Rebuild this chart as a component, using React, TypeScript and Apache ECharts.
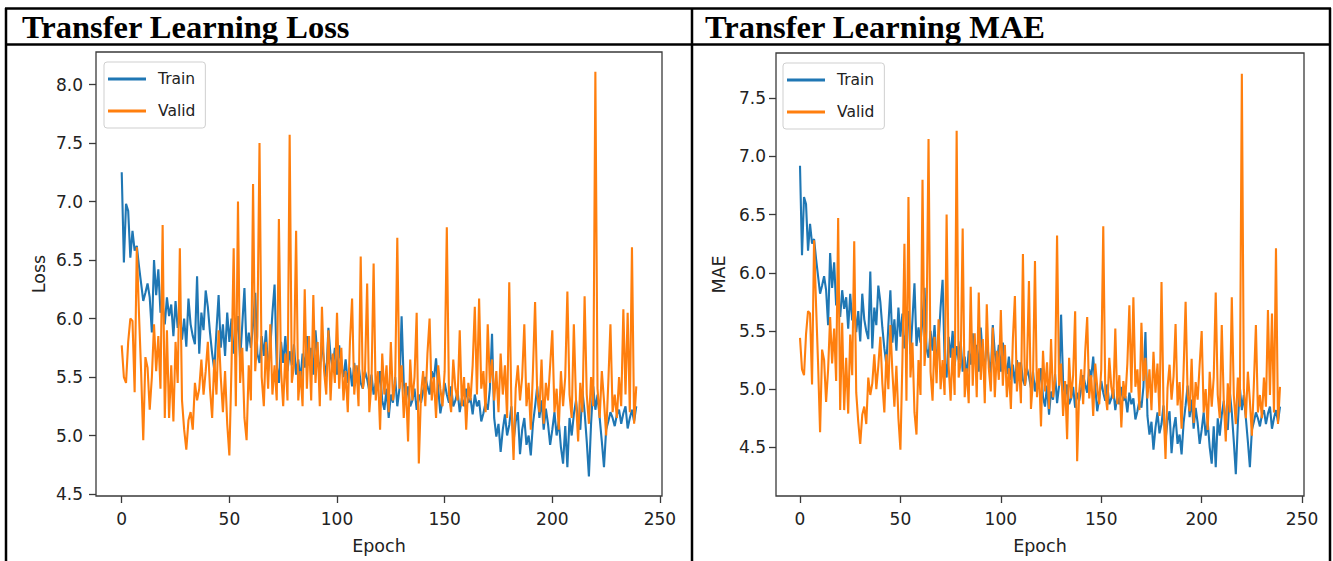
import React, { useEffect, useRef } from "react";
import * as echarts from "echarts";

// ---------- data ----------
const epochs: number[] = Array.from({ length: 240 }, (_, i) => i);

const lossTrain = [
  7.25, 6.48, 6.98, 6.92, 6.52, 6.75, 6.58, 6.62, 6.45, 6.30,
  6.15, 6.22, 6.30, 6.18, 5.88, 6.50, 6.20, 6.42, 6.05, 6.12,
  5.95, 6.18, 6.02, 6.12, 5.85, 6.15, 5.92, 6.05, 5.82, 6.00,
  5.76, 6.17, 5.95, 5.85, 5.78, 6.36, 5.70, 6.05, 5.90, 6.24,
  6.10, 5.88, 5.70, 5.56, 5.90, 6.20, 5.75, 5.95, 5.68, 6.05,
  5.80, 6.00, 5.70, 5.85, 6.02, 5.65, 5.95, 6.26, 5.72, 5.88,
  5.75, 5.95, 6.22, 5.70, 5.62, 5.85, 5.68, 5.90, 5.55, 5.75,
  6.05, 6.29, 5.60, 5.45, 5.80, 5.62, 5.85, 5.55, 5.72, 5.60,
  5.78, 5.52, 5.65, 5.47, 5.70, 5.58, 5.85, 5.60, 5.75, 5.52,
  5.90, 5.65, 5.55, 5.80, 5.62, 5.50, 5.92, 5.68, 5.58, 5.75,
  5.52, 5.77, 5.60, 5.50, 5.65, 5.45, 5.58, 5.42, 5.62, 5.48,
  5.60, 5.45, 5.40, 5.55, 5.48, 5.38, 5.52, 5.35, 5.45, 5.40,
  5.55, 5.30, 5.22, 5.40, 5.15, 5.35, 5.28, 5.50, 5.25, 5.40,
  6.02, 5.45, 5.30, 5.42, 5.25, 5.30, 5.40, 5.22, 5.35, 5.28,
  5.38, 5.50, 5.42, 5.35, 5.55, 5.48, 5.66, 5.40, 5.19, 5.30,
  5.45, 5.35, 5.28, 5.42, 5.25, 5.30, 5.38, 5.20, 5.32, 5.25,
  5.40, 5.28, 5.32, 5.18, 5.35, 5.25, 5.30, 5.12, 5.19, 5.28,
  5.22, 5.40, 5.87, 5.15, 4.99, 5.10, 4.86, 5.05, 5.18, 5.00,
  5.09, 5.25, 4.95, 5.12, 5.20, 4.84, 5.05, 5.15, 4.92, 5.00,
  4.83, 5.10, 5.25, 5.42, 5.15, 5.30, 5.05, 5.23, 5.10, 4.92,
  5.05, 5.20, 5.00, 5.12, 4.90, 4.76, 5.08, 4.73, 5.15, 5.00,
  5.18, 5.30, 5.10, 5.05, 5.38, 5.20, 4.95, 4.65, 5.10, 5.42,
  5.22, 5.35, 5.15, 4.95, 4.73, 5.05, 5.12, 5.20, 5.15, 5.08,
  5.18, 5.22, 5.10, 5.19, 5.25, 5.06, 5.15, 5.22, 5.12, 5.25,
];

const lossValid = [
  5.77, 5.50, 5.45, 5.80, 6.00, 5.98, 5.37, 6.61, 6.05, 5.55,
  4.96, 5.67, 5.58, 5.22, 5.50, 5.95, 5.55, 5.85, 5.40, 6.80,
  5.15, 5.90, 5.15, 5.60, 5.12, 5.80, 5.45, 6.60, 5.30, 5.05,
  4.88, 5.13, 5.20, 5.05, 5.45, 5.30, 5.40, 5.65, 5.35, 5.55,
  5.80, 5.40, 5.15, 5.65, 5.35, 5.90, 5.50, 5.20, 5.55, 5.10,
  4.83, 5.60, 6.60, 5.25, 7.00, 5.45, 5.75, 5.15, 4.96, 5.60,
  5.30, 7.15, 5.55, 5.85, 7.50, 5.50, 5.25, 5.80, 5.40, 5.95,
  5.35, 5.60, 5.30, 6.85, 5.55, 5.25, 5.70, 5.30, 7.57, 5.45,
  5.60, 6.75, 5.30, 5.55, 5.25, 6.25, 5.40, 5.85, 5.30, 6.20,
  5.45, 5.80, 5.25, 6.10, 5.55, 5.35, 5.90, 5.30, 5.70, 5.45,
  6.05, 5.40, 5.75, 5.30, 5.55, 5.20, 5.80, 6.17, 5.35, 5.60,
  5.25, 6.53, 5.40, 5.55, 6.30, 5.20, 5.45, 6.47, 5.30, 5.55,
  5.05, 5.70, 5.35, 5.60, 5.20, 5.80, 5.30, 5.45, 6.69, 5.40,
  5.60, 5.15, 5.45, 4.95, 5.65, 5.30, 5.50, 6.05, 4.76, 5.35,
  5.55, 5.25, 5.70, 6.00, 5.30, 5.50, 5.15, 5.60, 5.40, 5.25,
  5.55, 6.78, 5.35, 5.20, 5.65, 5.40, 5.30, 5.90, 5.25, 5.50,
  5.05, 5.45, 5.30, 5.60, 6.10, 5.35, 6.17, 5.40, 5.55, 5.20,
  5.95, 5.45, 5.65, 5.30, 5.55, 5.20, 5.70, 5.35, 5.60, 5.15,
  6.31, 5.25, 4.79, 5.40, 5.60, 5.30, 5.50, 5.95, 5.25, 5.45,
  5.05, 5.55, 6.14, 5.35, 5.20, 5.65, 5.10, 5.45, 5.30, 5.60,
  5.90, 5.20, 5.40, 5.05, 5.55, 5.25, 5.50, 6.23, 5.35, 5.15,
  5.95, 5.30, 4.95, 5.45, 5.20, 6.19, 5.35, 5.10, 5.50, 5.25,
  8.11, 5.40, 5.15, 5.55, 5.30, 5.00, 5.45, 5.95, 5.20, 5.35,
  5.15, 5.50, 5.25, 6.08, 5.35, 6.05, 5.20, 6.61, 5.10, 5.42,
];

const maeTrain = [
  6.92, 6.15, 6.65, 6.59, 6.19, 6.42, 6.25, 6.29, 6.12, 5.97,
  5.82, 5.89, 5.97, 5.85, 5.55, 6.17, 5.87, 6.09, 5.72, 5.79,
  5.62, 5.85, 5.69, 5.79, 5.52, 5.82, 5.59, 5.72, 5.49, 5.67,
  5.41, 5.82, 5.60, 5.50, 5.43, 6.01, 5.35, 5.70, 5.55, 5.89,
  5.75, 5.53, 5.35, 5.21, 5.55, 5.85, 5.40, 5.60, 5.33, 5.70,
  5.45, 5.65, 5.35, 5.50, 5.67, 5.30, 5.60, 5.91, 5.37, 5.53,
  5.40, 5.60, 5.87, 5.35, 5.27, 5.50, 5.33, 5.55, 5.20, 5.40,
  5.70, 5.94, 5.25, 5.10, 5.45, 5.27, 5.50, 5.20, 5.37, 5.25,
  5.41, 5.15, 5.28, 5.10, 5.33, 5.21, 5.48, 5.23, 5.38, 5.15,
  5.53, 5.28, 5.18, 5.43, 5.25, 5.13, 5.55, 5.31, 5.21, 5.38,
  5.15, 5.40, 5.23, 5.13, 5.28, 5.08, 5.21, 5.05, 5.25, 5.11,
  5.23, 5.08, 5.03, 5.18, 5.11, 5.01, 5.15, 4.98, 5.08, 5.03,
  5.18, 4.93, 4.85, 5.03, 4.78, 4.98, 4.91, 5.13, 4.88, 5.03,
  5.64, 5.07, 4.92, 5.04, 4.87, 4.92, 5.02, 4.84, 4.97, 4.90,
  5.00, 5.12, 5.04, 4.97, 5.17, 5.10, 5.28, 5.02, 4.81, 4.92,
  5.07, 4.97, 4.90, 5.04, 4.87, 4.92, 5.00, 4.82, 4.94, 4.87,
  5.02, 4.90, 4.94, 4.80, 4.97, 4.87, 4.92, 4.74, 4.81, 4.90,
  4.84, 5.02, 5.49, 4.77, 4.61, 4.72, 4.48, 4.67, 4.80, 4.62,
  4.70, 4.86, 4.56, 4.73, 4.81, 4.45, 4.66, 4.76, 4.53, 4.61,
  4.44, 4.71, 4.86, 5.03, 4.76, 4.91, 4.66, 4.84, 4.71, 4.53,
  4.65, 4.80, 4.60, 4.72, 4.50, 4.36, 4.68, 4.33, 4.75, 4.60,
  4.78, 4.90, 4.70, 4.65, 4.98, 4.80, 4.55, 4.27, 4.70, 5.02,
  4.82, 4.95, 4.75, 4.55, 4.33, 4.65, 4.72, 4.80, 4.75, 4.68,
  4.78, 4.82, 4.70, 4.79, 4.85, 4.66, 4.75, 4.82, 4.72, 4.85,
];

const maeValid = [
  5.44, 5.17, 5.12, 5.47, 5.67, 5.65, 5.04, 6.28, 5.72, 5.22,
  4.63, 5.34, 5.25, 4.89, 5.17, 5.62, 5.22, 5.52, 5.07, 6.47,
  4.82, 5.57, 4.82, 5.27, 4.79, 5.47, 5.12, 6.27, 4.97, 4.72,
  4.53, 4.78, 4.85, 4.70, 5.10, 4.95, 5.05, 5.30, 5.00, 5.20,
  5.45, 5.05, 4.80, 5.30, 5.00, 5.55, 5.15, 4.85, 5.20, 4.75,
  4.48, 5.25, 6.25, 4.90, 6.65, 5.10, 5.40, 4.80, 4.61, 5.25,
  4.95, 6.80, 5.20, 5.50, 7.15, 5.15, 4.90, 5.45, 5.05, 5.60,
  5.00, 5.25, 4.95, 6.50, 5.20, 4.90, 5.35, 4.95, 7.22, 5.10,
  5.23, 6.38, 4.93, 5.18, 4.88, 5.88, 5.03, 5.48, 4.93, 5.83,
  5.08, 5.43, 4.88, 5.73, 5.18, 4.98, 5.53, 4.93, 5.33, 5.08,
  5.68, 5.03, 5.38, 4.93, 5.18, 4.83, 5.43, 5.80, 4.98, 5.23,
  4.88, 6.16, 5.03, 5.18, 5.93, 4.83, 5.08, 6.10, 4.93, 5.18,
  4.68, 5.33, 4.98, 5.23, 4.83, 5.43, 4.93, 5.08, 6.32, 5.03,
  5.22, 4.77, 5.07, 4.57, 5.27, 4.92, 5.12, 5.67, 4.38, 4.97,
  5.17, 4.87, 5.32, 5.62, 4.92, 5.12, 4.77, 5.22, 5.02, 4.87,
  5.17, 6.40, 4.97, 4.82, 5.27, 5.02, 4.92, 5.52, 4.87, 5.12,
  4.67, 5.07, 4.92, 5.22, 5.72, 4.97, 5.79, 5.02, 5.17, 4.82,
  5.57, 5.07, 5.27, 4.92, 5.17, 4.82, 5.32, 4.97, 5.22, 4.77,
  5.92, 4.86, 4.40, 5.01, 5.21, 4.91, 5.11, 5.56, 4.86, 5.06,
  4.66, 5.16, 5.75, 4.96, 4.81, 5.26, 4.71, 5.06, 4.91, 5.21,
  5.50, 4.80, 5.00, 4.65, 5.15, 4.85, 5.10, 5.83, 4.95, 4.75,
  5.55, 4.90, 4.55, 5.05, 4.80, 5.79, 4.95, 4.70, 5.10, 4.85,
  7.71, 5.00, 4.75, 5.15, 4.90, 4.60, 5.05, 5.55, 4.80, 4.95,
  4.75, 5.10, 4.85, 5.68, 4.95, 5.65, 4.80, 6.21, 4.70, 5.02,
];

const xTicks = [0, 50, 100, 150, 200, 250];
const lossTicks = [4.5, 5.0, 5.5, 6.0, 6.5, 7.0, 7.5, 8.0];
const maeTicks = [4.5, 5.0, 5.5, 6.0, 6.5, 7.0, 7.5];
const titles = ["Transfer Learning Loss", "Transfer Learning MAE"];
const yNames = ["Loss", "MAE"];
const xName = "Epoch";
const seriesNames = ["Train", "Valid"];

// ---------- styling ----------
const BLUE = "#1f77b4";
const ORANGE = "#ff7f0e";
const AX = "#3a3a3a";
const TXT = "#222222";
const FONT = "DejaVu Sans";

function pairs(vals: number[]) {
  return epochs.map((e, i) => [e, vals[i]]);
}

export default function App() {
  const ref = useRef<HTMLDivElement>(null);

  useEffect(() => {
    document.body.style.margin = "0";
    if (!ref.current) return;
    const chart = echarts.init(ref.current, null, { renderer: "svg" });

    const grids = [
      { left: 96, top: 52, width: 566, height: 444 },
      { left: 776, top: 53, width: 528, height: 443 },
    ];
    const yRanges = [
      [4.483, 8.278],
      [4.082, 7.888],
    ];
    const yTicks = [lossTicks, maeTicks];

    const option: any = {
      animation: false,
      backgroundColor: "#ffffff",
      textStyle: { fontFamily: FONT },
      grid: grids.map((g) => ({
        ...g,
        show: true,
        borderColor: AX,
        borderWidth: 1.3,
        backgroundColor: "transparent",
      })),
      xAxis: [0, 1].map((i) => ({
        type: "value",
        gridIndex: i,
        min: -11.95,
        max: 250.95,
        name: xName,
        nameLocation: "middle",
        nameGap: 41,
        nameTextStyle: { fontSize: 17.5, color: TXT, fontFamily: FONT },
        axisLine: { show: false, onZero: false },
        axisTick: {
          show: true,
          inside: false,
          length: 7,
          customValues: xTicks,
          lineStyle: { color: AX, width: 1.3 },
        },
        axisLabel: {
          customValues: xTicks,
          fontSize: 17,
          color: TXT,
          fontFamily: FONT,
          margin: 14,
          formatter: (v: number) => String(Math.round(v)),
        },
        splitLine: { show: false },
      })),
      yAxis: [0, 1].map((i) => ({
        type: "value",
        gridIndex: i,
        min: yRanges[i][0],
        max: yRanges[i][1],
        name: yNames[i],
        nameLocation: "middle",
        nameRotate: 90,
        nameGap: 48,
        nameTextStyle: { fontSize: 17.5, color: TXT, fontFamily: FONT },
        axisLine: { show: false, onZero: false },
        axisTick: {
          show: true,
          inside: false,
          length: 7,
          customValues: yTicks[i],
          lineStyle: { color: AX, width: 1.3 },
        },
        axisLabel: {
          customValues: yTicks[i],
          fontSize: 17,
          color: TXT,
          fontFamily: FONT,
          margin: i === 0 ? 13 : 10,
          formatter: (v: number) => v.toFixed(1),
        },
        splitLine: { show: false },
      })),
      legend: [
        { left: 104, top: 62 },
        { left: 783, top: 63 },
      ].map((p) => ({
        ...p,
        orient: "vertical",
        data: seriesNames,
        icon: "rect",
        itemWidth: 38,
        itemHeight: 3,
        itemGap: 16,
        padding: [9, 10, 9, 4],
        borderColor: "#cfcfcf",
        borderWidth: 1,
        borderRadius: 3,
        backgroundColor: "rgba(255,255,255,0.8)",
        selectedMode: false,
        textStyle: {
          fontSize: 15.5,
          color: TXT,
          fontFamily: FONT,
          padding: [0, 0, 0, 7],
        },
      })),
      series: [
        { name: seriesNames[0], axis: 0, data: lossTrain, color: BLUE },
        { name: seriesNames[1], axis: 0, data: lossValid, color: ORANGE },
        { name: seriesNames[0], axis: 1, data: maeTrain, color: BLUE },
        { name: seriesNames[1], axis: 1, data: maeValid, color: ORANGE },
      ].map((s) => ({
        type: "line",
        name: s.name,
        xAxisIndex: s.axis,
        yAxisIndex: s.axis,
        data: pairs(s.data),
        showSymbol: false,
        symbol: "none",
        lineStyle: { width: 2.1, color: s.color },
        itemStyle: { color: s.color },
        color: s.color,
      })),
      graphic: [
        // table borders
        { type: "line", shape: { x1: 5, y1: 8.5, x2: 1331, y2: 8.5 }, style: { stroke: "#000", lineWidth: 2.5 } },
        { type: "line", shape: { x1: 5, y1: 44.5, x2: 1331, y2: 44.5 }, style: { stroke: "#000", lineWidth: 2.5 } },
        { type: "line", shape: { x1: 6, y1: 8, x2: 6, y2: 561 }, style: { stroke: "#000", lineWidth: 2.5 } },
        { type: "line", shape: { x1: 692, y1: 8, x2: 692, y2: 561 }, style: { stroke: "#000", lineWidth: 2.5 } },
        { type: "line", shape: { x1: 1330, y1: 8, x2: 1330, y2: 561 }, style: { stroke: "#000", lineWidth: 2.5 } },
        // header texts
        {
          type: "text",
          x: 22,
          y: 27,
          style: {
            text: titles[0],
            fontSize: 32.5,
            fontWeight: "bold",
            fontFamily: "Liberation Serif",
            fill: "#000",
            verticalAlign: "middle",
          },
        },
        {
          type: "text",
          x: 705,
          y: 27,
          style: {
            text: titles[1],
            fontSize: 32.5,
            fontWeight: "bold",
            fontFamily: "Liberation Serif",
            fill: "#000",
            verticalAlign: "middle",
          },
        },
      ],
    };

    chart.setOption(option);
    return () => chart.dispose();
  }, []);

  return <div ref={ref} style={{ width: 1333, height: 561 }} />;
}
